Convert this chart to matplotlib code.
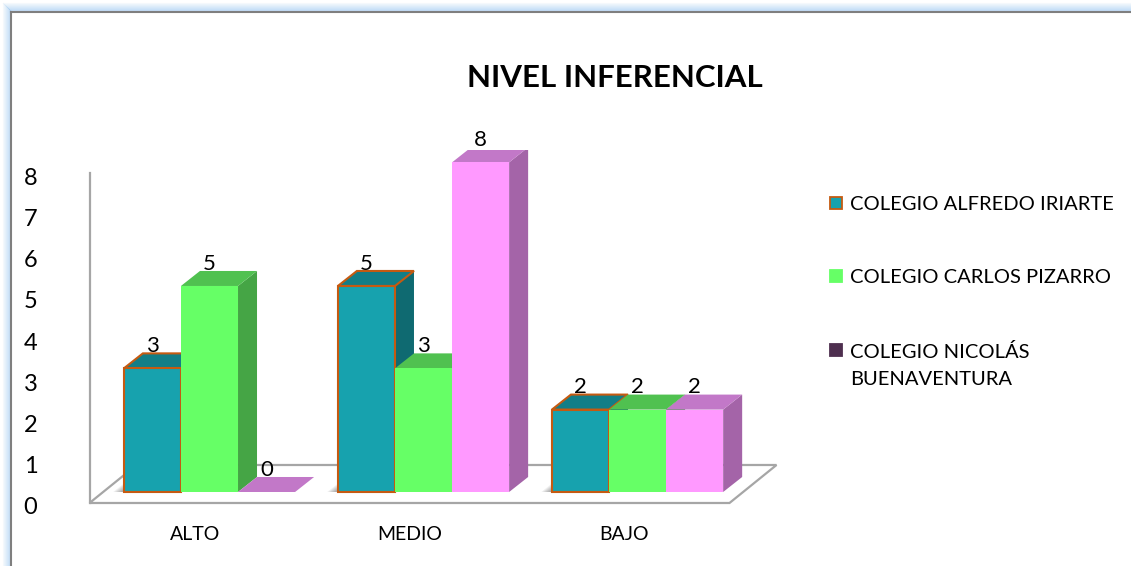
import numpy as np
import matplotlib
matplotlib.use('Agg')
import matplotlib.pyplot as plt
from matplotlib.patches import Polygon, Rectangle
from matplotlib.lines import Line2D

# data
categories = ['ALTO', 'MEDIO', 'BAJO']
series_names = ['COLEGIO ALFREDO IRIARTE', 'COLEGIO CARLOS PIZARRO', 'COLEGIO NICOLÁS\nBUENAVENTURA']
alfredo = [3, 5, 2]
carlos = [5, 3, 2]
nicolas = [0, 8, 2]
y_ticks = [0, 1, 2, 3, 4, 5, 6, 7, 8]
title = 'NIVEL INFERENCIAL'

# colours: front, top, side
front_cols = ['#17a2ae', '#66ff66', '#ff99ff']
top_cols = ['#127e87', '#50c150', '#c278c8']
side_cols = ['#0f6a71', '#45a545', '#a464a8']
legend_cols = ['#17a2ae', '#66ff66', '#4e2f4f']
edge_orange = '#c55a11'

plt.rcParams['font.family'] = ['Lato', 'DejaVu Sans']

W, H = 1131, 566
fig = plt.figure(figsize=(W / 100, H / 100), dpi=100)


def px(x, y):
    # pixel (from top-left) -> figure fraction
    return x / W, 1 - y / H


# frame with soft blue glow
for k in range(8):
    a = 0.08 + 0.06 * k
    c = (0.55, 0.75, 0.95, a)
    x0, y0 = px(3 + k, 3 + k)
    fig.add_artist(Line2D([x0, x0], [y0, 0], color=c, lw=0.8, transform=fig.transFigure))
    fig.add_artist(Line2D([x0, 1], [y0, y0], color=c, lw=0.8, transform=fig.transFigure))
x0, y0 = px(11, 12)
fig.add_artist(Line2D([x0, x0], [y0, 0], color='#7f7f7f', lw=1.5, transform=fig.transFigure))
fig.add_artist(Line2D([x0, 1], [y0, y0], color='#7f7f7f', lw=1.5, transform=fig.transFigure))

ax = fig.add_axes([10 / W, 1 - 540 / H, 790 / W, 390 / H])
ax.set_xlim(-0.932, 2.759)
ax.set_ylim(-1.165, 8.30)
ax.axis('off')

bar_w = 0.8 / 3
ddx, ddy = 19 / 214, 15 / 41.2        # bar depth
fx, fy = -14 / 214, -11 / 41.2        # floor front plane offset
flx, fly = 47 / 214, 38 / 41.2        # floor depth

x = np.arange(len(categories))

# floor
fl0 = -0.4 - 0.095 + fx
fl1 = len(categories) - 1 + 0.4 + 0.095 + fx
floor = Polygon([(fl0, fy), (fl1, fy), (fl1 + flx, fy + fly), (fl0 + flx, fy + fly)],
                closed=True, facecolor='white', edgecolor='#a6a6a6', lw=1.6, zorder=1)
ax.add_patch(floor)

# y axis on floor front plane
ax.plot([fl0, fl0], [fy, fy + y_ticks[-1]], color='#a6a6a6', lw=1.6, zorder=1)
for v in y_ticks:
    ax.text(fl0 - 0.276, fy + v - 0.07, str(v), ha='center', va='center_baseline', fontsize=17, color='black')

for i, c in enumerate(categories):
    ax.text(x[i] + fx, -0.995, c, ha='center', va='center_baseline', fontsize=14, color='black')

# soft shadows at the base of the first bar of each group
for i in range(len(categories)):
    left = x[i] - 1.5 * bar_w
    for k in range(6):
        w = 0.05 - k * 0.007
        shadow = Polygon([(left - w, 0.0), (left, 0.0), (left + ddx, ddy), (left + ddx - w, ddy)],
                         closed=True, facecolor='black', edgecolor='none', alpha=0.06, zorder=1.5)
        ax.add_patch(shadow)

all_vals = [alfredo, carlos, nicolas]
for s, vals in enumerate(all_vals):
    z = 2 + 3 * s
    ec = edge_orange if s == 0 else 'none'
    bars = ax.bar(x + (s - 1) * bar_w, vals, width=bar_w, color=front_cols[s],
                  edgecolor=ec, lw=1.5, zorder=z + 2)
    for b in bars:
        bx, bw, bh = b.get_x(), b.get_width(), b.get_height()
        side = Polygon([(bx + bw, 0), (bx + bw + ddx, ddy), (bx + bw + ddx, bh + ddy), (bx + bw, bh)],
                       closed=True, facecolor=side_cols[s], edgecolor='none', zorder=z)
        top = Polygon([(bx, bh), (bx + bw, bh), (bx + bw + ddx, bh + ddy), (bx + ddx, bh + ddy)],
                      closed=True, facecolor=top_cols[s], edgecolor=ec, lw=1.5, zorder=z + 1)
        ax.add_patch(side)
        ax.add_patch(top)
        ax.text(bx + bw / 2, bh + ddy + 0.03, str(int(bh)), ha='center', va='baseline',
                fontsize=16, color='black', zorder=20)

# title
tx, ty = px(615, 75)
fig.text(tx, ty, title, ha='center', va='center_baseline', fontsize=22.5, fontweight='bold', color='black')

# legend
leg_y = [203, 276, 350]
line_gap = 28
for s, name in enumerate(series_names):
    rx, ry = px(830, leg_y[s] + 6)
    ec = edge_orange if s == 0 else legend_cols[s]
    fig.add_artist(Rectangle((rx, ry), 12 / W, 12 / H, facecolor=legend_cols[s],
                             edgecolor=ec, lw=1.3, transform=fig.transFigure))
    for j, line in enumerate(name.split('\n')):
        lx, ly = px(850, leg_y[s] + j * line_gap)
        fig.text(lx, ly, line, ha='left', va='center_baseline', fontsize=14.5, color='black')

fig.savefig('out.png', dpi=100)
